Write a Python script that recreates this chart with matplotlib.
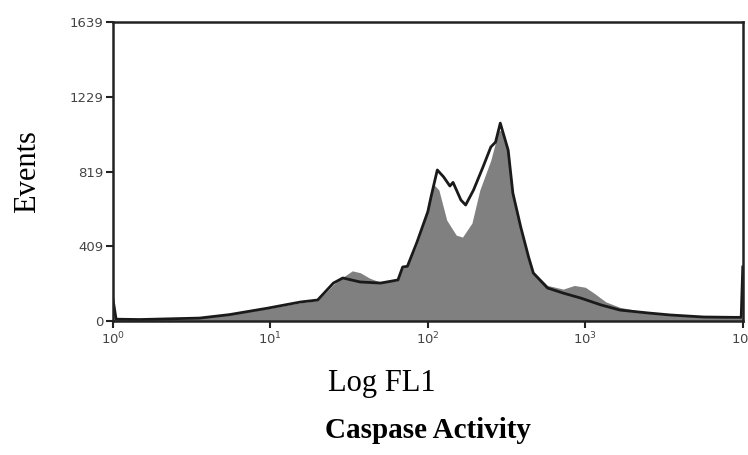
import matplotlib
matplotlib.use("Agg")
import matplotlib.pyplot as plt
import numpy as np

# black outline histogram (log10 of FL1 channel, events)
line_log = [0.0, 0.02, 0.17, 0.36, 0.55, 0.74, 0.98, 1.19, 1.30, 1.40, 1.46,
            1.57, 1.70, 1.81, 1.84, 1.87, 1.93, 2.00, 2.02, 2.06, 2.10, 2.14,
            2.16, 2.21, 2.24, 2.29, 2.35, 2.40, 2.43, 2.46, 2.51, 2.54, 2.59,
            2.64, 2.67, 2.76, 2.86, 2.97, 3.10, 3.22, 3.40, 3.54, 3.75, 3.94,
            3.99, 4.0]
line_events = [120, 10, 8, 12, 16, 35, 70, 104, 115, 208, 236,
               214, 208, 225, 296, 300, 430, 600, 680, 828, 790, 740,
               760, 663, 636, 718, 844, 954, 981, 1085, 937, 701, 515,
               350, 263, 181, 153, 126, 88, 60, 44, 33, 22, 20,
               20, 296]

# gray filled histogram
fill_log = [0.0, 0.02, 0.17, 0.36, 0.55, 0.74, 0.98, 1.19, 1.30, 1.40, 1.46,
            1.52, 1.57, 1.63, 1.70, 1.81, 1.84, 1.87, 1.93, 2.00, 2.03, 2.07,
            2.12, 2.18, 2.22, 2.28, 2.33, 2.40, 2.45, 2.47, 2.51, 2.54, 2.59,
            2.64, 2.67, 2.76, 2.86, 2.93, 3.00, 3.06, 3.13, 3.22, 3.30, 3.40,
            3.54, 3.75, 3.94, 4.0]
fill_events = [8, 8, 7, 10, 15, 35, 68, 100, 112, 200, 240,
               275, 265, 235, 212, 222, 290, 300, 420, 600, 756, 718,
               553, 471, 460, 537, 718, 882, 1047, 1040, 930, 700, 510,
               350, 270, 195, 175, 195, 185, 150, 105, 75, 62, 45,
               33, 22, 18, 18]

y_ticks = [0, 409, 819, 1229, 1639]
x_ticks = [1, 10, 100, 1000, 10000]
x_tick_labels = ['$10^{0}$', '$10^{1}$', '$10^{2}$', '$10^{3}$', '$10^{4}$']

fig = plt.figure(figsize=(7.48, 4.55), dpi=100)
ax = fig.add_axes([0.151, 0.2945, 0.842, 0.657])

fx = 10 ** np.array(fill_log)
lx = 10 ** np.array(line_log)
ax.fill_between(fx, 0, fill_events, color='#808080', linewidth=0)
ax.plot(lx, line_events, color='#1a1a1a', linewidth=2.0)

ax.set_xscale('log')
ax.set_xlim(1, 10000)
ax.set_ylim(0, 1639)
ax.set_xticks(x_ticks)
ax.set_xticklabels(x_tick_labels)
ax.minorticks_off()
ax.set_yticks(y_ticks)
ax.set_yticklabels([str(v) for v in y_ticks])

for s in ax.spines.values():
    s.set_linewidth(1.8)
    s.set_color('#222222')

ax.tick_params(axis='both', direction='out', length=5, width=1.5,
               colors='#222222', labelsize=9.5, labelcolor='#444444', pad=2)

serif = ['Liberation Serif', 'DejaVu Serif']
fig.text(28 / 748, 1 - 172 / 455, 'Events', rotation=90, ha='center',
         va='center', fontsize=22, family=serif)
fig.text(382 / 748, 1 - 383 / 455, 'Log FL1', ha='center', va='center',
         fontsize=22, family=serif)
fig.text(428 / 748, 1 - 431 / 455, 'Caspase Activity', ha='center',
         va='center', fontsize=21, family=serif, fontweight='bold')

fig.savefig('out.png', dpi=100)
